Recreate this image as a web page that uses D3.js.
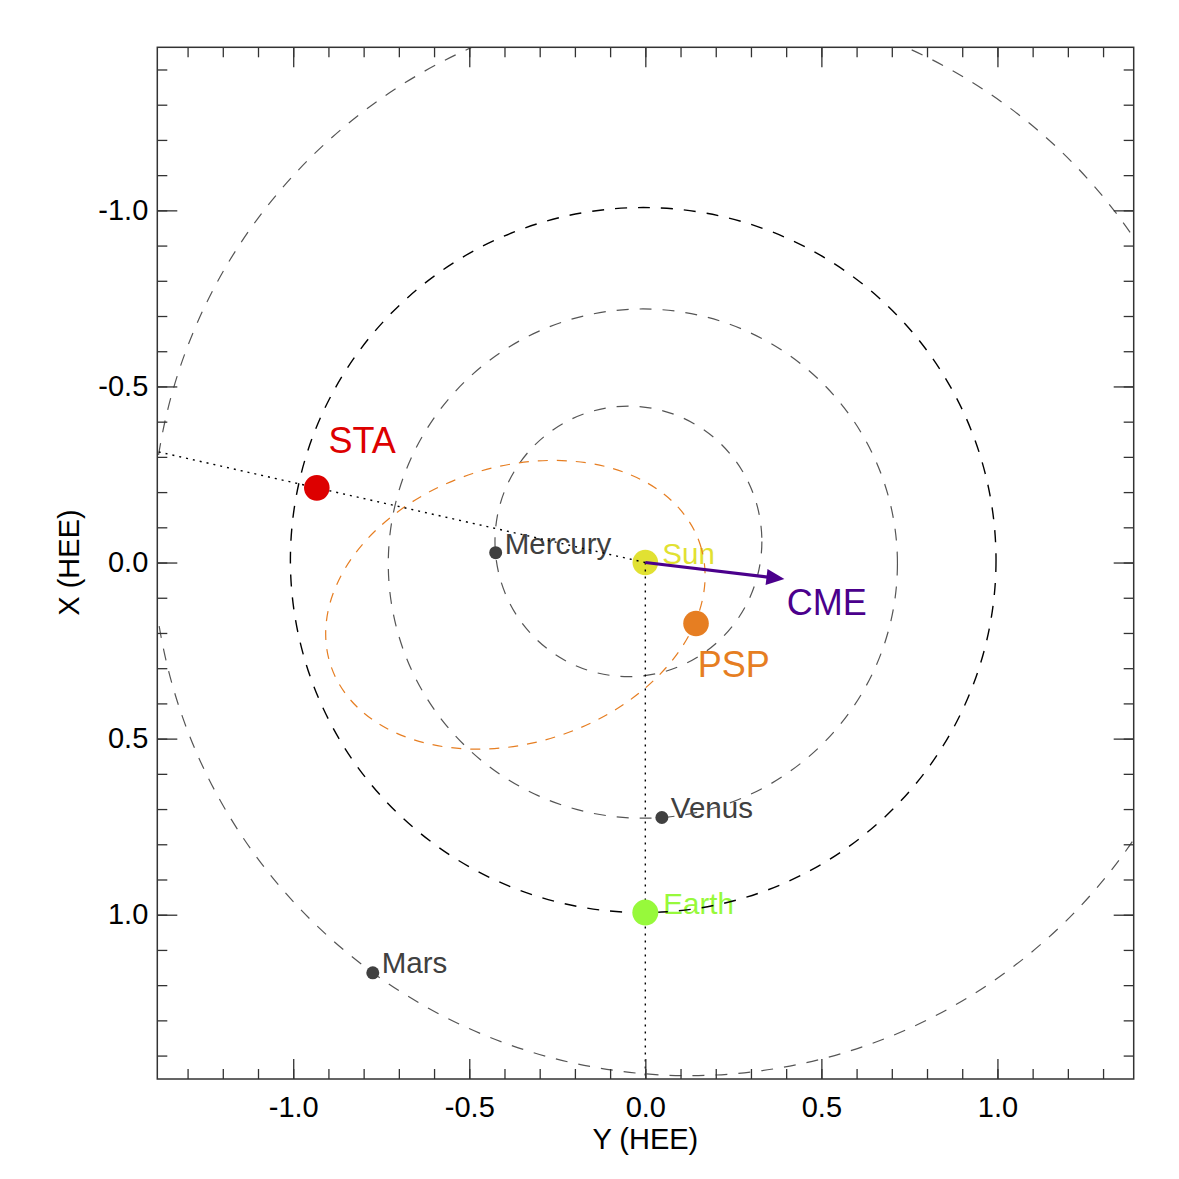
<!DOCTYPE html>
<html>
<head>
<meta charset="utf-8">
<script src="https://cdn.jsdelivr.net/npm/d3@7"></script>
<style>
  html, body { margin: 0; padding: 0; background: #fff; }
  svg { display: block; font-family: "Liberation Sans", Arial, Helvetica, sans-serif; }
</style>
</head>
<body>
<svg id="chart" width="1179" height="1179"></svg>
<script>
// HEE positions in AU: "Y" runs across, "X" runs down the page
const planetNames = ["Mercury", "Venus", "Earth", "Mars"];
const planetY = [-0.425, 0.047, 0.000, -0.774];
const planetX = [-0.028, 0.724, 0.994, 1.165];

const craftNames = ["STA", "PSP"];
const craftY = [-0.933, 0.144];
const craftX = [-0.212, 0.173];

const sunPos = [0.0, 0.0];
const cmeTip = [0.395, 0.047];

// orbits: centre (Y, X), semi-axes, tilt of the first axis in degrees
const orbitNames = ["Mercury", "Venus", "Earth", "Mars", "PSP"];
const orbitY = [-0.048, -0.007, -0.006, 0.124, -0.369];
const orbitX = [-0.060, 0.003, -0.007, -0.068, 0.120];
const orbitA = [0.379, 0.723, 1.002, 1.525, 0.552];
const orbitB = [0.384, 0.723, 1.001, 1.525, 0.392];
const orbitTilt = [0, 0, 0, 0, -18];

const majorTicks = [-1.0, -0.5, 0.0, 0.5, 1.0];
const minorTicks = d3.range(-14, 15).map(d => d / 10);

// ---- layout / style ----
const frame = { left: 157.3, right: 1133.7, top: 47.3, bottom: 1079 };
const colors = {
    frame: "#333333",
    planet: "#404040",
    Sun: "#e1e132",
    Earth: "#97f93b",
    STA: "#dd0000",
    PSP: "#e67e22",
    CME: "#4b008c",
    orbit: "#555555",
    orbitEarth: "#000000"
};
const labelOffsets = {
    Mercury: [9, 1], Venus: [9, 0], Earth: [18, 1], Mars: [9, 0], Sun: [17, 1],
    STA: [11.6, -34.4], PSP: [1.7, 53.4], CME: [2.4, 36]
};

const x = d3.scaleLinear().domain([-1.386, 1.387]).range([frame.left, frame.right]);
const y = d3.scaleLinear().domain([-1.463, 1.4665]).range([frame.top, frame.bottom]);

const svg = d3.select("#chart");

svg.append("defs").append("clipPath").attr("id", "plotClip")
    .append("rect")
    .attr("x", frame.left).attr("y", frame.top)
    .attr("width", frame.right - frame.left)
    .attr("height", frame.bottom - frame.top);

const plot = svg.append("g").attr("clip-path", "url(#plotClip)");

// ---- labels (drawn first, lines pass over them) ----
const planetLabels = planetNames.map((n, i) => ({ name: n, px: x(planetY[i]), py: y(planetX[i]) }));
planetLabels.push({ name: "Sun", px: x(sunPos[0]), py: y(sunPos[1]) });

plot.selectAll(".plabel").data(planetLabels).enter().append("text")
    .attr("class", "plabel")
    .attr("x", d => d.px + labelOffsets[d.name][0])
    .attr("y", d => d.py + labelOffsets[d.name][1])
    .attr("font-size", 29.5)
    .attr("fill", d => colors[d.name] ?? colors.planet)
    .text(d => d.name);

const craftLabels = craftNames.map((n, i) => ({ name: n, px: x(craftY[i]), py: y(craftX[i]) }));
craftLabels.push({ name: "CME", px: x(cmeTip[0]), py: y(cmeTip[1]) });

plot.selectAll(".clabel").data(craftLabels).enter().append("text")
    .attr("class", "clabel")
    .attr("x", d => d.px + labelOffsets[d.name][0])
    .attr("y", d => d.py + labelOffsets[d.name][1])
    .attr("font-size", 36)
    .attr("fill", d => colors[d.name])
    .text(d => d.name);

// ---- sun disk (lines are drawn over it) ----
plot.append("circle")
    .attr("cx", x(sunPos[0])).attr("cy", y(sunPos[1]))
    .attr("r", 12.8).attr("fill", colors.Sun);

// ---- orbits ----
orbitNames.forEach((n, i) => {
    const cx = x(orbitY[i]), cy = y(orbitX[i]);
    plot.append("ellipse")
        .attr("cx", cx).attr("cy", cy)
        .attr("rx", x(orbitA[i]) - x(0))
        .attr("ry", y(orbitB[i]) - y(0))
        .attr("transform", `rotate(${orbitTilt[i]},${cx},${cy})`)
        .attr("fill", "none")
        .attr("stroke", n === "Earth" ? colors.orbitEarth : n === "PSP" ? colors.PSP : colors.orbit)
        .attr("stroke-width", n === "Earth" ? 1.4 : 1.2)
        .attr("stroke-dasharray", n === "PSP" ? "10,9" : "12,11");
});

// ---- lines of sight from the Sun through Earth and STA ----
const sightLines = [[planetY[2], planetX[2]], [craftY[0], craftX[0]]];
plot.selectAll(".sight").data(sightLines).enter().append("line")
    .attr("class", "sight")
    .attr("x1", x(sunPos[0])).attr("y1", y(sunPos[1]))
    .attr("x2", d => x(d[0] * 5)).attr("y2", d => y(d[1] * 5))
    .attr("stroke", "#000")
    .attr("stroke-width", 1.4)
    .attr("stroke-dasharray", "2,5");

// ---- CME arrow ----
const p0 = [x(sunPos[0]), y(sunPos[1])];
const p1 = [x(cmeTip[0]), y(cmeTip[1])];
const ang = Math.atan2(p1[1] - p0[1], p1[0] - p0[0]);
const ux = Math.cos(ang), uy = Math.sin(ang);
const headLen = 18, headHalf = 8;
plot.append("line")
    .attr("x1", p0[0]).attr("y1", p0[1])
    .attr("x2", p1[0] - ux * (headLen - 3)).attr("y2", p1[1] - uy * (headLen - 3))
    .attr("stroke", colors.CME).attr("stroke-width", 3.2);
plot.append("path")
    .attr("d", d3.line()([
        p1,
        [p1[0] - ux * headLen - uy * headHalf, p1[1] - uy * headLen + ux * headHalf],
        [p1[0] - ux * headLen + uy * headHalf, p1[1] - uy * headLen - ux * headHalf]
    ]) + "Z")
    .attr("fill", colors.CME);

// ---- planet and spacecraft dots ----
plot.selectAll(".planet").data(planetNames).enter().append("circle")
    .attr("class", "planet")
    .attr("cx", (d, i) => x(planetY[i]))
    .attr("cy", (d, i) => y(planetX[i]))
    .attr("r", d => d === "Earth" ? 13 : 6.5)
    .attr("fill", d => colors[d] ?? colors.planet);

plot.selectAll(".craft").data(craftNames).enter().append("circle")
    .attr("class", "craft")
    .attr("cx", (d, i) => x(craftY[i]))
    .attr("cy", (d, i) => y(craftX[i]))
    .attr("r", 12.8)
    .attr("fill", d => colors[d]);

// ---- axes: inward ticks on all four sides ----
const fmt = d => d.toFixed(1);
const xMinor = minorTicks.filter(d => d >= x.domain()[0] && d <= x.domain()[1]);
const yMinor = minorTicks.filter(d => d >= y.domain()[0] && d <= y.domain()[1]);

function addAxis(axis, tx, ty, labels) {
    const g = svg.append("g").attr("transform", `translate(${tx},${ty})`).call(axis);
    g.select(".domain").remove();
    g.selectAll(".tick line").attr("stroke", colors.frame).attr("stroke-width", 1.3);
    g.selectAll(".tick text")
        .attr("font-size", 29)
        .attr("font-family", "'Liberation Sans', Arial, Helvetica, sans-serif")
        .attr("fill", "#000");
    if (!labels) g.selectAll(".tick text").remove();
    return g;
}

addAxis(d3.axisBottom(x).tickValues(xMinor).tickSize(-10).tickSizeOuter(0), 0, frame.bottom, false);
addAxis(d3.axisBottom(x).tickValues(majorTicks).tickSize(-20).tickSizeOuter(0)
    .tickPadding(17).tickFormat(fmt), 0, frame.bottom, true);
addAxis(d3.axisTop(x).tickValues(xMinor).tickSize(-10).tickSizeOuter(0), 0, frame.top, false);
addAxis(d3.axisTop(x).tickValues(majorTicks).tickSize(-20).tickSizeOuter(0), 0, frame.top, false);

addAxis(d3.axisLeft(y).tickValues(yMinor).tickSize(-10).tickSizeOuter(0), frame.left, 0, false);
addAxis(d3.axisLeft(y).tickValues(majorTicks).tickSize(-20).tickSizeOuter(0)
    .tickPadding(9).tickFormat(fmt), frame.left, 0, true);
addAxis(d3.axisRight(y).tickValues(yMinor).tickSize(-10).tickSizeOuter(0), frame.right, 0, false);
addAxis(d3.axisRight(y).tickValues(majorTicks).tickSize(-20).tickSizeOuter(0), frame.right, 0, false);

svg.append("rect")
    .attr("x", frame.left).attr("y", frame.top)
    .attr("width", frame.right - frame.left)
    .attr("height", frame.bottom - frame.top)
    .attr("fill", "none")
    .attr("stroke", colors.frame)
    .attr("stroke-width", 1.5);

// ---- axis titles ----
svg.append("text")
    .attr("x", x(0)).attr("y", 1149)
    .attr("text-anchor", "middle")
    .attr("font-size", 29)
    .attr("fill", "#000")
    .text("Y (HEE)");

svg.append("text")
    .attr("transform", `translate(79,${y(0)}) rotate(-90)`)
    .attr("text-anchor", "middle")
    .attr("font-size", 29)
    .attr("fill", "#000")
    .text("X (HEE)");
</script>
</body>
</html>
